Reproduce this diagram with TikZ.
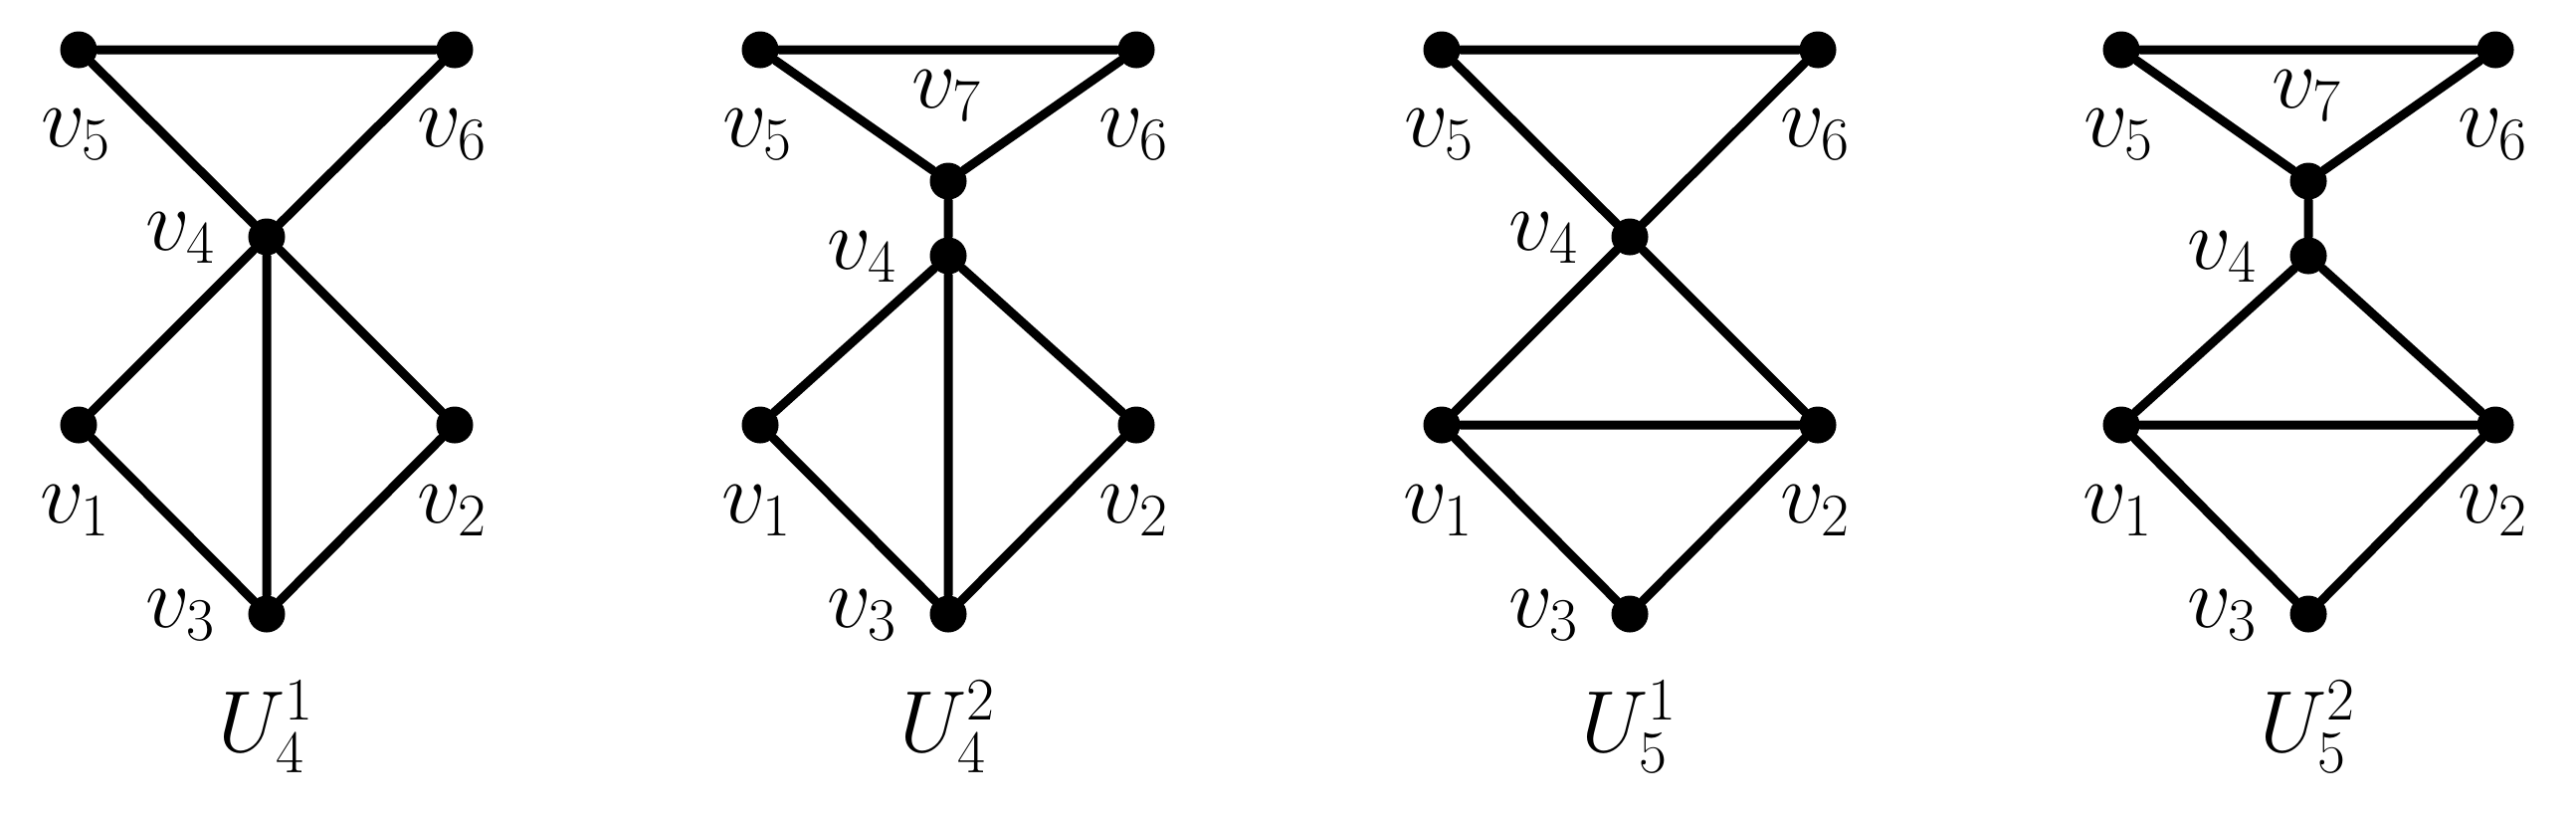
\documentclass[tikz,border=0pt]{standalone}
\begin{document}
\begin{tikzpicture}[x=0.01cm,y=-0.01cm,
  vtx/.style={circle,fill=black,draw=none,inner sep=0pt,minimum size=0.37cm},
  gedge/.style={line width=0.09cm,line cap=round},
  lbl/.style={anchor=base,inner sep=0pt,font=\fontsize{25}{30}\selectfont},
  glbl/.style={anchor=base,inner sep=0pt,font=\fontsize{25}{30}\selectfont}]
\useasboundingbox (0,0) rectangle (2589,823);

% ---------- U_4^1 ----------
\begin{scope}[shift={(268,0)}]
  \node[vtx] (a5) at (-189,50) {};
  \node[vtx] (a6) at (189,50) {};
  \node[vtx] (a4) at (0,238) {};
  \node[vtx] (a1) at (-189,427) {};
  \node[vtx] (a2) at (189,427) {};
  \node[vtx] (a3) at (0,617) {};
  \draw[gedge] (a5) -- (a6) (a5) -- (a4) (a6) -- (a4) (a4) -- (a1) (a4) -- (a2) (a4) -- (a3) (a1) -- (a3) (a2) -- (a3);
  \node[lbl] (la5) at (-191,147) {$v_5$};
  \node[lbl] (la6) at (187,147) {$v_6$};
  \node[lbl] (la4) at (-86,251) {$v_4$};
  \node[lbl] (la1) at (-192,525) {$v_1$};
  \node[lbl] (la2) at (187,525) {$v_2$};
  \node[lbl] (la3) at (-86,630) {$v_3$};
  \node[glbl] (ga) at (0,755) {$U_4^1$};
\end{scope}

% ---------- U_4^2 ----------
\begin{scope}[shift={(953,0)}]
  \node[vtx] (b5) at (-189,50) {};
  \node[vtx] (b6) at (189,50) {};
  \node[vtx] (b7) at (0,182) {};
  \node[vtx] (b4) at (0,257) {};
  \node[vtx] (b1) at (-189,427) {};
  \node[vtx] (b2) at (189,427) {};
  \node[vtx] (b3) at (0,617) {};
  \draw[gedge] (b5) -- (b6) (b5) -- (b7) (b6) -- (b7) (b7) -- (b4) (b4) -- (b1) (b4) -- (b2) (b4) -- (b3) (b1) -- (b3) (b2) -- (b3);
  \node[lbl] (lb5) at (-191,147) {$v_5$};
  \node[lbl] (lb6) at (187,147) {$v_6$};
  \node[lbl] (lb7) at (-1,108) {$v_7$};
  \node[lbl] (lb4) at (-86,270) {$v_4$};
  \node[lbl] (lb1) at (-192,525) {$v_1$};
  \node[lbl] (lb2) at (187,525) {$v_2$};
  \node[lbl] (lb3) at (-86,630) {$v_3$};
  \node[glbl] (gb) at (0,755) {$U_4^2$};
\end{scope}

% ---------- U_5^1 ----------
\begin{scope}[shift={(1638,0)}]
  \node[vtx] (c5) at (-189,50) {};
  \node[vtx] (c6) at (189,50) {};
  \node[vtx] (c4) at (0,238) {};
  \node[vtx] (c1) at (-189,427) {};
  \node[vtx] (c2) at (189,427) {};
  \node[vtx] (c3) at (0,617) {};
  \draw[gedge] (c5) -- (c6) (c5) -- (c4) (c6) -- (c4) (c4) -- (c1) (c4) -- (c2) (c1) -- (c2) (c1) -- (c3) (c2) -- (c3);
  \node[lbl] (lc5) at (-191,147) {$v_5$};
  \node[lbl] (lc6) at (187,147) {$v_6$};
  \node[lbl] (lc4) at (-86,251) {$v_4$};
  \node[lbl] (lc1) at (-192,525) {$v_1$};
  \node[lbl] (lc2) at (187,525) {$v_2$};
  \node[lbl] (lc3) at (-86,630) {$v_3$};
  \node[glbl] (gc) at (0,755) {$U_5^1$};
\end{scope}

% ---------- U_5^2 ----------
\begin{scope}[shift={(2320,0)}]
  \node[vtx] (d5) at (-188,50) {};
  \node[vtx] (d6) at (188,50) {};
  \node[vtx] (d7) at (0,182) {};
  \node[vtx] (d4) at (0,257) {};
  \node[vtx] (d1) at (-188,427) {};
  \node[vtx] (d2) at (188,427) {};
  \node[vtx] (d3) at (0,617) {};
  \draw[gedge] (d5) -- (d6) (d5) -- (d7) (d6) -- (d7) (d7) -- (d4) (d4) -- (d1) (d4) -- (d2) (d1) -- (d2) (d1) -- (d3) (d2) -- (d3);
  \node[lbl] (ld5) at (-190,147) {$v_5$};
  \node[lbl] (ld6) at (186,147) {$v_6$};
  \node[lbl] (ld7) at (-1,108) {$v_7$};
  \node[lbl] (ld4) at (-86,270) {$v_4$};
  \node[lbl] (ld1) at (-191,525) {$v_1$};
  \node[lbl] (ld2) at (186,525) {$v_2$};
  \node[lbl] (ld3) at (-86,630) {$v_3$};
  \node[glbl] (gd) at (0,755) {$U_5^2$};
\end{scope}
\end{tikzpicture}
\end{document}
